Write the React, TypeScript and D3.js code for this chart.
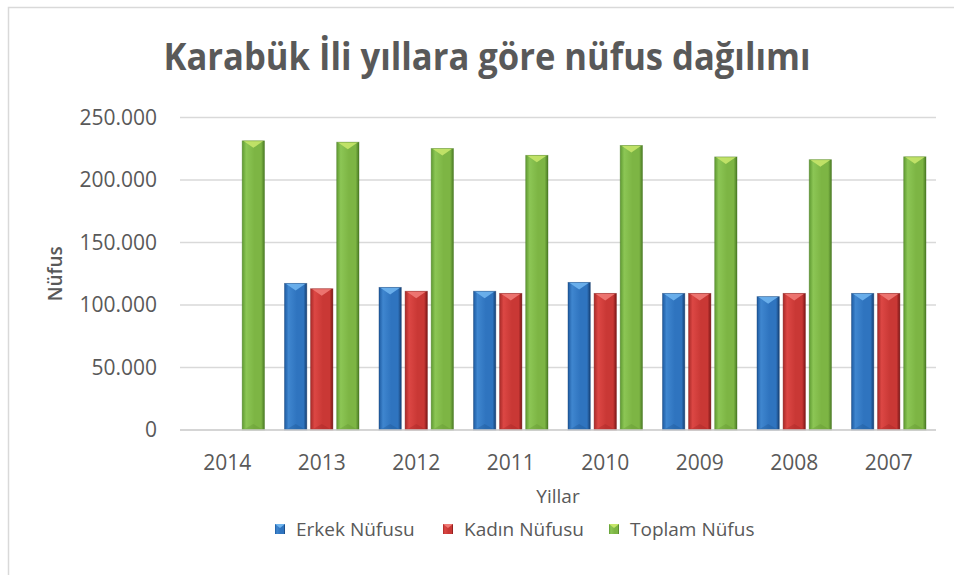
import React from "react";
import * as d3 from "d3";

const years = ["2014", "2013", "2012", "2011", "2010", "2009", "2008", "2007"];
const erkek = [0, 117300, 114100, 111000, 118100, 109300, 106700, 109300];
const kadin = [0, 113000, 111000, 109300, 109300, 109300, 109300, 109300];
const toplam = [231333, 230251, 225145, 219728, 227610, 218463, 216248, 218564];
const yTicks = [0, 50000, 100000, 150000, 200000, 250000];
const seriesNames = ["Erkek Nüfusu", "Kadın Nüfusu", "Toplam Nüfus"];

const palettes = [
  { id: "b", edgeL: "#1d5aa0", light: "#3f86cf", mid: "#2f74bf", edgeR: "#163f72", cap: "#6fb4ee", bottom: "#1a4f8c" },
  { id: "r", edgeL: "#a82a28", light: "#dc4744", mid: "#c93835", edgeR: "#7a1616", cap: "#ef7a75", bottom: "#9a2222" },
  { id: "g", edgeL: "#5f9a32", light: "#8cc655", mid: "#7db544", edgeR: "#4a7a24", cap: "#c6e66a", bottom: "#5c8f2f" },
];

const FONT = "'Open Sans', 'Noto Sans', sans-serif";
const TXT = "#595959";

export default function App() {
  const W = 954, H = 575;
  const left = 180, right = 936, top = 117.5, bottom = 430;
  const x = d3.scaleBand<string>().domain(years).range([left, right]).padding(0);
  const inner = d3
    .scaleBand<number>()
    .domain([0, 1, 2])
    .range([10, x.step() - 10])
    .paddingInner(0.145)
    .paddingOuter(0);
  const y = d3.scaleLinear().domain([0, 250000]).range([bottom, top]);
  const fmt = (v: number) => (v === 0 ? "0" : d3.format(",")(v).replace(/,/g, "."));
  const data = [erkek, kadin, toplam];
  const bw = inner.bandwidth();

  return (
    <svg width={W} height={H} style={{ position: "absolute", left: 0, top: 0, background: "#fff" }}>
      <defs>
        {palettes.map((p) => (
          <linearGradient key={p.id} id={"grad-" + p.id} x1="0" x2="1" y1="0" y2="0">
            <stop offset="0%" stopColor={p.edgeL} />
            <stop offset="18%" stopColor={p.light} />
            <stop offset="55%" stopColor={p.mid} />
            <stop offset="85%" stopColor={p.mid} />
            <stop offset="100%" stopColor={p.edgeR} />
          </linearGradient>
        ))}
      </defs>
      <rect x={8.5} y={7.5} width={2000} height={2000} fill="#fff" stroke="#d9d9d9" strokeWidth={1.5} />
      <text
        x={487}
        y={70}
        textAnchor="middle"
        fontFamily={FONT}
        fontWeight={700}
        fontSize={38}
        fill={TXT}
        textLength={647}
        lengthAdjust="spacingAndGlyphs"
      >
        Karabük İli yıllara göre nüfus dağılımı
      </text>
      {yTicks.map((t) => (
        <g key={t}>
          <line x1={left} x2={right} y1={y(t)} y2={y(t)} stroke="#d9d9d9" strokeWidth={1.5} />
          <text
            x={157}
            y={y(t)}
            dy="0.35em"
            textAnchor="end"
            fontFamily={FONT}
            fontSize={21}
            fill={TXT}
          >
            {fmt(t)}
          </text>
        </g>
      ))}
      {years.map((yr, i) => (
        <g key={yr}>
          {data.map((vals, s) => {
            const v = vals[i];
            if (!v) return null;
            const p = palettes[s];
            const bx = (x(yr) as number) + (inner(s) as number);
            const by = y(v);
            const h = y(0) - by;
            return (
              <g key={s}>
                <rect x={bx} y={by} width={bw} height={h} fill={`url(#grad-${p.id})`} />
                <polygon
                  points={`${bx + 1},${by} ${bx + bw - 1},${by} ${bx + bw / 2},${by + 7}`}
                  fill={p.cap}
                  opacity={0.9}
                />
                <polygon
                  points={`${bx + 1},${by + h} ${bx + bw - 1},${by + h} ${bx + bw / 2},${by + h - 6}`}
                  fill={p.bottom}
                  opacity={0.3}
                />
                <rect x={bx} y={by} width={bw} height={h} fill="none" stroke={p.edgeR} strokeOpacity={0.5} strokeWidth={0.8} />
              </g>
            );
          })}
          <text
            x={(x(yr) as number) + x.bandwidth() / 2}
            y={470}
            textAnchor="middle"
            fontFamily={FONT}
            fontSize={21}
            fill={TXT}
          >
            {yr}
          </text>
        </g>
      ))}
      <line x1={left} x2={right} y1={y(0)} y2={y(0)} stroke="#d0d0d0" strokeWidth={1.5} />
      <text
        transform={`translate(62,${(top + bottom) / 2}) rotate(-90)`}
        textAnchor="middle"
        fontFamily={FONT}
        fontSize={19}
        fontWeight={600}
        fill={TXT}
      >
        Nüfus
      </text>
      <text
        x={(left + right) / 2}
        y={503}
        textAnchor="middle"
        fontFamily={FONT}
        fontSize={19}
        fontWeight={500}
        fill={TXT}
      >
        Yillar
      </text>
      {seriesNames.map((name, s) => {
        const xs = [275, 443, 609][s];
        const p = palettes[s];
        return (
          <g key={name}>
            <rect x={xs} y={524} width={10} height={10} fill={`url(#grad-${p.id})`} />
            <polygon points={`${xs},${524} ${xs + 10},${524} ${xs + 5},${528}`} fill={p.cap} />
            <text x={xs + 21} y={529} dy="0.35em" fontFamily={FONT} fontSize={19} fill={TXT}>
              {name}
            </text>
          </g>
        );
      })}
    </svg>
  );
}
